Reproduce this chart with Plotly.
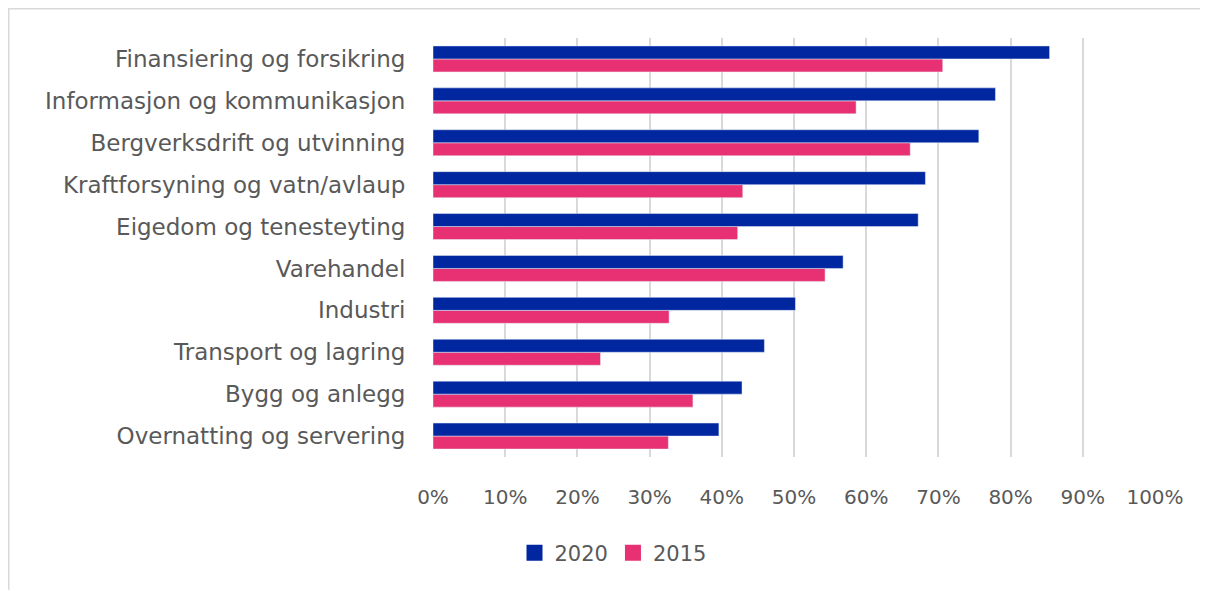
import plotly.graph_objects as go

categories = ["Finansiering og forsikring", "Informasjon og kommunikasjon",
              "Bergverksdrift og utvinning", "Kraftforsyning og vatn/avlaup",
              "Eigedom og tenesteyting", "Varehandel", "Industri",
              "Transport og lagring", "Bygg og anlegg", "Overnatting og servering"]
share_2020 = [0.854, 0.779, 0.756, 0.682, 0.672, 0.568, 0.502, 0.459, 0.428, 0.396]
share_2015 = [0.706, 0.586, 0.661, 0.429, 0.422, 0.543, 0.327, 0.232, 0.360, 0.326]
x_ticks = [i / 10 for i in range(11)]

# page body adds 8px, so these are the reference positions minus 8
W, H = 1208, 590
L, R, T, B = 425, 1147, 30, 449
FONT = "DejaVu Sans, sans-serif"
GREY = "#595959"
NAVY = "#0026A0"
PINK = "#E83172"

fig = go.Figure()
# 2015 first so it sits under 2020 in each group
fig.add_trace(go.Bar(y=categories, x=share_2015, orientation="h", name="2015",
                     marker=dict(color=PINK), showlegend=False))
fig.add_trace(go.Bar(y=categories, x=share_2020, orientation="h", name="2020",
                     marker=dict(color=NAVY), showlegend=False))
# legend entries with bigger square swatches
for name, col in [("2020", NAVY), ("2015", PINK)]:
    fig.add_trace(go.Scatter(x=[None], y=[None], mode="markers", name=name,
                             marker=dict(symbol="square", size=16, color=col)))

fig.update_layout(width=W, height=H, barmode="group", bargap=0.38, bargroupgap=0,
                  plot_bgcolor="white", paper_bgcolor="white",
                  margin=dict(l=L, r=W - R, t=T, b=H - B, pad=0),
                  font=dict(family=FONT, color=GREY),
                  legend=dict(orientation="h",
                              x=(605 - L) / (R - L), xanchor="center",
                              y=(B - 545) / (B - T), yanchor="middle",
                              font=dict(size=21), itemwidth=30))

fig.update_xaxes(range=[0, 1], tickvals=x_ticks, tickformat=".0%",
                 showgrid=True, gridcolor="#D9D9D9", gridwidth=1.5,
                 zeroline=False, showline=False,
                 ticks="outside", ticklen=22, tickcolor="rgba(0,0,0,0)",
                 tickfont=dict(size=20, color=GREY))
fig.update_yaxes(categoryorder="array", categoryarray=categories[::-1],
                 showgrid=False, showline=False, zeroline=False,
                 ticks="outside", ticklen=22, tickcolor="rgba(0,0,0,0)",
                 tickfont=dict(size=23, color=GREY))

# light frame around the chart (cropped at right/bottom in the reference)
fig.add_shape(type="rect", xref="paper", yref="paper",
              x0=(0.75 - L) / (R - L), x1=(W + 5 - L) / (R - L),
              y0=(B - (H + 5)) / (B - T), y1=(B - 0.75) / (B - T),
              line=dict(color="#D9D9D9", width=1.5), fillcolor="rgba(0,0,0,0)",
              layer="below")

fig.write_html("out.html")
